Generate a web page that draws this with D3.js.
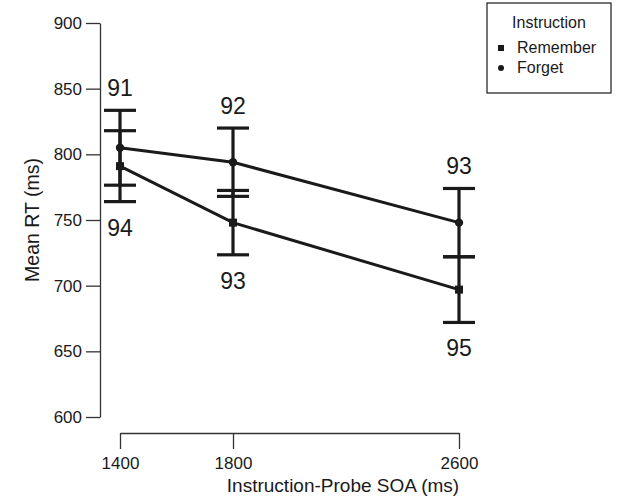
<!DOCTYPE html>
<html>
<head>
<meta charset="utf-8">
<script src="https://cdn.jsdelivr.net/npm/d3@7"></script>
<style>
  body { margin: 0; background: #fff; }
  svg { display: block; font-family: "Liberation Sans", Arial, sans-serif; }
</style>
</head>
<body>
<svg id="chart" width="626" height="502"></svg>
<script>
// data
const soa = [1400, 1800, 2600];
const xTicks = [1400, 1800, 2600];
const yTicks = [600, 650, 700, 750, 800, 850, 900];

const rememberRT = [791, 748, 697];
const rememberErr = [27, 24.5, 25];
const rememberAcc = [94, 93, 95];

const forgetRT = [805, 794, 748];
const forgetErr = [28.5, 26, 26];
const forgetAcc = [91, 92, 93];

const legendItems = ["Remember", "Forget"];

const svg = d3.select("#chart");
const ink = "#1a1a1a";

const x = d3.scaleLinear().domain([1400, 2600]).range([120, 459]);
const y = d3.scaleLinear().domain([600, 900]).range([417, 23]);

// y axis
const yAxis = svg.append("g")
  .attr("transform", "translate(100,0)")
  .call(d3.axisLeft(y).tickValues(yTicks).tickSize(14).tickPadding(4).tickSizeOuter(0));
yAxis.select(".domain").attr("stroke", "#333").attr("stroke-width", 1.3);
yAxis.selectAll(".tick line").attr("stroke", "#333").attr("stroke-width", 1.3);
yAxis.selectAll(".tick text").attr("font-size", 17).attr("fill", ink)
  .attr("font-family", "Liberation Sans, Arial, sans-serif");

// x axis
const xAxis = svg.append("g")
  .attr("transform", "translate(0,433)")
  .call(d3.axisBottom(x).tickValues(xTicks).tickFormat(d3.format("d")).tickSize(16).tickPadding(8).tickSizeOuter(0));
xAxis.select(".domain").attr("stroke", "#333").attr("stroke-width", 1.3);
xAxis.selectAll(".tick line").attr("stroke", "#333").attr("stroke-width", 1.3);
xAxis.selectAll(".tick text").attr("font-size", 17).attr("fill", ink)
  .attr("font-family", "Liberation Sans, Arial, sans-serif");

// axis titles
svg.append("text")
  .attr("transform", "translate(39,220) rotate(-90)")
  .attr("text-anchor", "middle")
  .attr("font-size", 19.5)
  .attr("fill", ink)
  .text("Mean RT (ms)");

svg.append("text")
  .attr("x", 343).attr("y", 492)
  .attr("text-anchor", "middle")
  .attr("font-size", 19)
  .attr("fill", ink)
  .text("Instruction-Probe SOA (ms)");

const series = [
  { name: "Remember", rt: rememberRT, err: rememberErr, acc: rememberAcc, above: false },
  { name: "Forget", rt: forgetRT, err: forgetErr, acc: forgetAcc, above: true }
];

const line = d3.line().x(d => x(d.soa)).y(d => y(d.rt));

series.forEach(s => {
  const pts = soa.map((v, i) => ({ soa: v, rt: s.rt[i], err: s.err[i], acc: s.acc[i] }));
  const g = svg.append("g");

  g.append("path")
    .datum(pts)
    .attr("d", line)
    .attr("fill", "none")
    .attr("stroke", ink)
    .attr("stroke-width", 3);

  // error bars
  const eb = g.selectAll(".eb").data(pts).enter().append("g");
  eb.append("line")
    .attr("x1", d => x(d.soa)).attr("x2", d => x(d.soa))
    .attr("y1", d => y(d.rt - d.err)).attr("y2", d => y(d.rt + d.err))
    .attr("stroke", ink).attr("stroke-width", 3.2);
  eb.append("line")
    .attr("x1", d => x(d.soa) - 16).attr("x2", d => x(d.soa) + 16)
    .attr("y1", d => y(d.rt + d.err)).attr("y2", d => y(d.rt + d.err))
    .attr("stroke", ink).attr("stroke-width", 3.2);
  eb.append("line")
    .attr("x1", d => x(d.soa) - 16).attr("x2", d => x(d.soa) + 16)
    .attr("y1", d => y(d.rt - d.err)).attr("y2", d => y(d.rt - d.err))
    .attr("stroke", ink).attr("stroke-width", 3.2);

  // markers
  if (s.name === "Remember") {
    g.selectAll(".mk").data(pts).enter().append("rect")
      .attr("x", d => x(d.soa) - 4).attr("y", d => y(d.rt) - 4)
      .attr("width", 8).attr("height", 8)
      .attr("fill", ink);
  } else {
    g.selectAll(".mk").data(pts).enter().append("circle")
      .attr("cx", d => x(d.soa)).attr("cy", d => y(d.rt))
      .attr("r", 4.2)
      .attr("fill", ink);
  }

  // accuracy labels
  g.selectAll(".acc").data(pts).enter().append("text")
    .attr("x", d => x(d.soa))
    .attr("y", d => s.above ? y(d.rt + d.err) - 14 : y(d.rt - d.err) + 34)
    .attr("text-anchor", "middle")
    .attr("font-size", 23)
    .attr("fill", ink)
    .text(d => d.acc);
});

// legend
const lg = svg.append("g").attr("transform", "translate(487,3)");
lg.append("rect")
  .attr("width", 124).attr("height", 90)
  .attr("fill", "#fff").attr("stroke", ink).attr("stroke-width", 1.2);
lg.append("text")
  .attr("x", 62).attr("y", 25)
  .attr("text-anchor", "middle")
  .attr("font-size", 16).attr("fill", ink)
  .text("Instruction");
const items = lg.selectAll(".li").data(legendItems).enter().append("g")
  .attr("transform", (d, i) => `translate(0,${50 + i * 20})`);
items.each(function (d) {
  const it = d3.select(this);
  if (d === "Remember") {
    it.append("rect").attr("x", 11).attr("y", -8).attr("width", 6).attr("height", 6).attr("fill", ink);
  } else {
    it.append("circle").attr("cx", 14).attr("cy", -5).attr("r", 3).attr("fill", ink);
  }
});
items.append("text")
  .attr("x", 30).attr("y", 0)
  .attr("font-size", 16).attr("fill", ink)
  .text(d => d);
</script>
</body>
</html>
